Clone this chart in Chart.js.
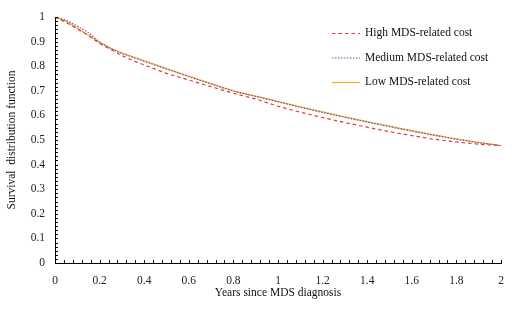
<!DOCTYPE html>
<html>
<head>
<meta charset="utf-8">
<script src="https://cdn.jsdelivr.net/npm/chart.js@4"></script>
<style>
  html, body { margin: 0; padding: 0; background: #fff; }
</style>
</head>
<body>
<canvas id="surv" width="520" height="327"></canvas>
<script>
// years since diagnosis
var years = [0, 0.05, 0.1, 0.15, 0.2, 0.25, 0.3, 0.35, 0.4, 0.45, 0.5, 0.55, 0.6, 0.65, 0.7, 0.75, 0.8, 0.85, 0.9, 0.95, 1.0,
             1.1, 1.2, 1.3, 1.4, 1.5, 1.6, 1.7, 1.8, 1.9, 2.0];
var highCost = [1, 0.978, 0.951, 0.925, 0.892, 0.868, 0.843, 0.823, 0.805, 0.788, 0.771, 0.757, 0.744, 0.730, 0.717, 0.703, 0.690, 0.678, 0.667, 0.652, 0.637,
                0.613, 0.591, 0.571, 0.552, 0.534, 0.518, 0.503, 0.492, 0.483, 0.477];
var mediumCost = [1, 0.987, 0.963, 0.937, 0.897, 0.872, 0.852, 0.836, 0.820, 0.804, 0.789, 0.773, 0.757, 0.742, 0.728, 0.713, 0.699, 0.688, 0.677, 0.666, 0.655,
                  0.633, 0.612, 0.592, 0.573, 0.554, 0.536, 0.519, 0.503, 0.489, 0.477];
var lowCost = [1, 0.982, 0.955, 0.926, 0.897, 0.873, 0.853, 0.838, 0.822, 0.806, 0.790, 0.775, 0.760, 0.744, 0.729, 0.714, 0.700, 0.688, 0.678, 0.668, 0.657,
               0.635, 0.614, 0.594, 0.575, 0.556, 0.538, 0.521, 0.505, 0.490, 0.477];
var seriesNames = ['High MDS-related cost', 'Medium MDS-related cost', 'Low MDS-related cost'];
var xTicks = [0, 0.2, 0.4, 0.6, 0.8, 1, 1.2, 1.4, 1.6, 1.8, 2];
var yTicks = [0, 0.1, 0.2, 0.3, 0.4, 0.5, 0.6, 0.7, 0.8, 0.9, 1];

var serif = '"Liberation Serif", "Times New Roman", serif';

function pts(ys) {
    return years.map(function(x, i) { return { x: x, y: ys[i] }; });
}

// petits traits vers l'interieur sur les deux axes
var tickMarks = {
    id: 'tickMarks',
    afterDraw: function(chart) {
        var ctx = chart.ctx, xs = chart.scales.x, ys = chart.scales.y;
        ctx.save();
        ctx.strokeStyle = '#000';
        ctx.lineWidth = 1;
        ctx.beginPath();
        for (var i = 0; i <= 50; i++) {
            var px = Math.round(xs.getPixelForValue(i * 0.04)) + 0.5;
            ctx.moveTo(px, ys.bottom);
            ctx.lineTo(px, ys.bottom - 3);
        }
        for (var j = 0; j <= 60; j++) {
            var py = Math.round(ys.getPixelForValue(j / 60)) + 0.5;
            ctx.moveTo(xs.left, py);
            ctx.lineTo(xs.left + 3, py);
        }
        ctx.stroke();
        ctx.restore();
    }
};

// legende dessinee a la main (traits pointilles)
var legendBox = {
    id: 'legendBox',
    afterDraw: function(chart) {
        var ctx = chart.ctx;
        ctx.save();
        ctx.font = '11.5px ' + serif;
        ctx.textBaseline = 'middle';
        ctx.fillStyle = '#111';
        chart.data.datasets.forEach(function(ds, i) {
            var y = 33 + i * 24.5;
            ctx.strokeStyle = ds.borderColor;
            ctx.lineWidth = ds.borderWidth;
            ctx.setLineDash(ds.borderDash || []);
            ctx.beginPath();
            ctx.moveTo(332, y + 0.5);
            ctx.lineTo(360, y + 0.5);
            ctx.stroke();
            ctx.setLineDash([]);
            ctx.fillText(ds.label, 365, y);
        });
        ctx.restore();
    }
};

var ctxSurv = document.getElementById('surv').getContext('2d');

var survChart = new Chart(ctxSurv, {
    type: 'line',
    data: {
        datasets: [{
            label: seriesNames[0],
            data: pts(highCost),
            borderColor: '#e63b3b',
            borderWidth: 1.2,
            borderDash: [3.5, 3]
        }, {
            label: seriesNames[1],
            data: pts(mediumCost),
            borderColor: '#6a5aa8',
            borderWidth: 1.2,
            borderDash: [1.5, 1.5]
        }, {
            label: seriesNames[2],
            data: pts(lowCost),
            borderColor: '#f3b236',
            borderWidth: 1.3
        }]
    },
    options: {
        responsive: false,
        animation: false,
        devicePixelRatio: 1,
        elements: {
            point: { radius: 0 },
            line: { tension: 0 }
        },
        layout: {
            padding: { left: 5, right: 19, top: 17, bottom: 27 }
        },
        plugins: {
            legend: { display: false },
            tooltip: { enabled: false }
        },
        scales: {
            x: {
                type: 'linear',
                min: 0,
                max: 2,
                afterBuildTicks: function(s) { s.ticks = xTicks.map(function(v) { return { value: v }; }); },
                afterFit: function(s) { s.height = 37; },
                grid: { display: false },
                border: { display: true, color: '#000', width: 1 },
                ticks: {
                    color: '#222',
                    font: { family: serif, size: 11.5 },
                    padding: 3,
                    maxRotation: 0,
                    autoSkip: false,
                    callback: function(v) { return String(Number(v.toFixed(1))); }
                },
                title: {
                    display: true,
                    text: 'Years since MDS diagnosis',
                    color: '#111',
                    font: { family: serif, size: 11.5 },
                    padding: { top: 0, bottom: 0 }
                }
            },
            y: {
                type: 'linear',
                min: 0,
                max: 1,
                afterBuildTicks: function(s) { s.ticks = yTicks.map(function(v) { return { value: v }; }); },
                afterFit: function(s) { s.width = 50; },
                grid: { display: false },
                border: { display: true, color: '#000', width: 1 },
                ticks: {
                    color: '#222',
                    font: { family: serif, size: 11.5 },
                    padding: 2,
                    autoSkip: false,
                    callback: function(v) { return String(Number(v.toFixed(1))); }
                },
                title: {
                    display: true,
                    text: 'Survival  distribution function',
                    color: '#111',
                    font: { family: serif, size: 11.5 },
                    padding: { top: 0, bottom: 0 }
                }
            }
        }
    },
    plugins: [tickMarks, legendBox]
});
</script>
</body>
</html>
